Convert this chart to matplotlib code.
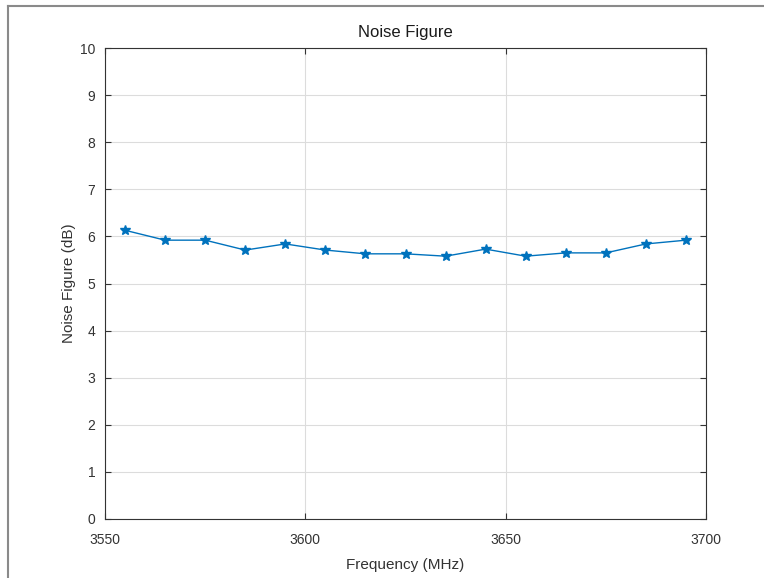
import matplotlib
matplotlib.use('Agg')
import matplotlib.pyplot as plt
from matplotlib.lines import Line2D

# Datos
freq = [3555, 3565, 3575, 3585, 3595, 3605, 3615, 3625, 3635, 3645, 3655, 3665, 3675, 3685, 3695]
nf = [6.13, 5.92, 5.92, 5.71, 5.84, 5.71, 5.63, 5.63, 5.58, 5.73, 5.58, 5.65, 5.65, 5.84, 5.92]
xticks = [3550, 3600, 3650, 3700]
yticks = list(range(0, 11))

plt.rcParams['font.family'] = ['Liberation Sans', 'DejaVu Sans']

fig = plt.figure(figsize=(7.64, 5.78), dpi=100)
ax = fig.add_axes([105/764, 1 - 519/578, (706-105)/764, (519-48)/578])

ax.plot(freq, nf, '-', color='#0072BD', lw=1.0, marker='*', ms=7,
        mec='#0072BD', mfc='#0072BD')

ax.set_xlim(3550, 3700)
ax.set_ylim(0, 10)
ax.set_xticks(xticks)
ax.set_yticks(yticks)
ax.grid(True, color='#dcdcdc', lw=0.8)
ax.tick_params(direction='in', top=True, right=True, labelsize=10,
               colors='#333333', length=4)
ax.tick_params(axis='x', pad=10)
ax.tick_params(axis='y', pad=7)
for s in ax.spines.values():
    s.set_color('#333333')
    s.set_linewidth(0.8)

ax.set_title('Noise Figure', fontsize=12, color='#1a1a1a', pad=8)
ax.set_xlabel('Frequency (MHz)', fontsize=11, color='#333333', labelpad=8)
ax.set_ylabel('Noise Figure (dB)', fontsize=11, color='#333333', labelpad=3)

# marco de la imagen (solo arriba e izquierda)
fig.lines.append(Line2D([8/764, 8/764], [0, 1 - 6/578], transform=fig.transFigure,
                        color='#8a8a8a', lw=1.5))
fig.lines.append(Line2D([8/764, 1], [1 - 6/578, 1 - 6/578], transform=fig.transFigure,
                        color='#8a8a8a', lw=1.5))

fig.savefig('out.png', dpi=100)
